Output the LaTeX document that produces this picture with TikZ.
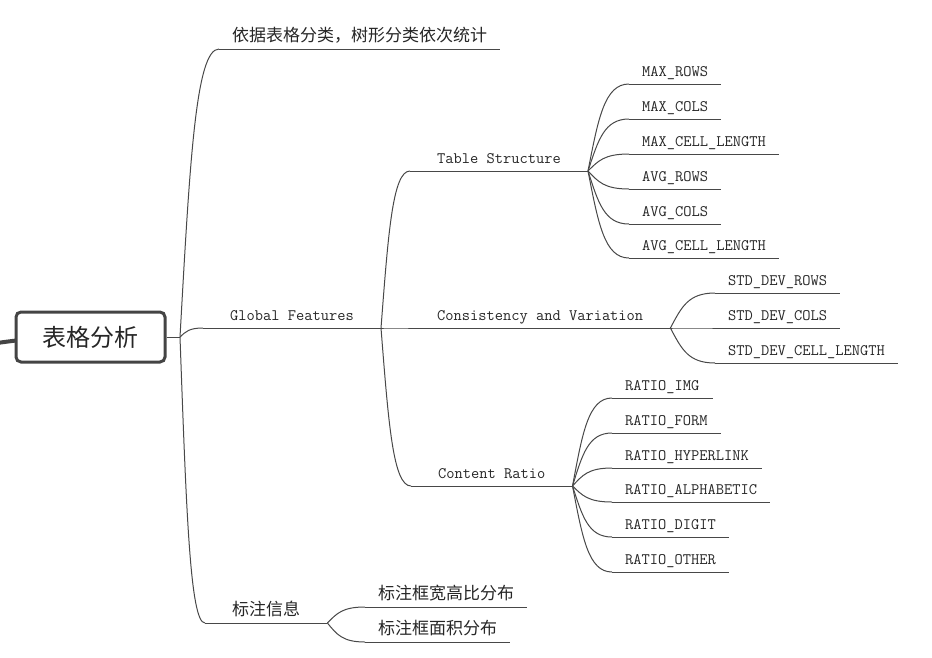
\documentclass[tikz,border=0pt]{standalone}
\usepackage{fontspec}
\usepackage{tikz}
\usetikzlibrary{calc}
\newfontfamily\cjk{Noto Sans CJK SC}
\definecolor{linegray}{RGB}{72, 72, 72}
\definecolor{txtdark}{RGB}{38, 38, 38}
\definecolor{rootgray}{RGB}{68, 68, 68}

\begin{document}
\begin{tikzpicture}[x=1pt, y=-1pt,
          line/.style={draw=linegray, line width=1pt},
          leaf/.style={anchor=south west, inner xsep=13pt,
                       inner ysep=4.5pt, text depth=2.5pt,
                       text=txtdark,
                       font=\fontsize{16}{19}\selectfont\ttfamily,
                       append after command={(\tikzlastnode.south west)
                           edge[line] (\tikzlastnode.south east)}},
          branch/.style={leaf, inner xsep=27pt},
          cn/.style={font=\fontsize{17}{20}\selectfont\cjk},
          rootbox/.style={draw=rootgray, line width=3pt, fill=white,
                          rounded corners=5pt, minimum width=149pt,
                          minimum height=50pt, text=txtdark,
                          font=\fontsize{24}{28}\selectfont\cjk},
          curvy/.style={to path={let \p1=(\tikztostart),
              \p2=(\tikztotarget) in
              .. controls ({\x1+0.25*(\x2-\x1)},{\y1+0.6*(\y2-\y1)})
              and ({\x2-0.6*(\x2-\x1)},\y2) .. (\tikztotarget)}},
      ]
      \useasboundingbox (0,0) rectangle (932,657);

      % root and its incoming line
      \coordinate (enter) at (-3,343);
      \coordinate (hub) at (180,337);
      \draw[draw=rootgray, line width=4pt] (enter)
          to[out=8, in=180] (90,337);
      \node[rootbox] (root) at (90.5,337) {表格分析};
      \draw[line] (root.east) -- (hub);

      % first level
      \node[leaf, cn] (basis) at (219,49)
          {依据表格分类，树形分类依次统计};
      \node[branch] (gf) at (203,328) {Global Features};
      \node[branch, cn] (mark) at (205,623) {标注信息};
      \foreach \c in {basis, gf, mark}
          \draw[line] (hub) to[curvy] (\c.south west);

      % global features
      \node[branch] (ts) at (410,171) {Table Structure};
      \node[branch] (cv) at (410,328) {Consistency and Variation};
      \node[branch] (cr) at (411,486) {Content Ratio};
      \foreach \c in {ts, cv, cr}
          \draw[line] (gf.south east) to[curvy] (\c.south west);

      % table structure leaves
      \foreach \k/\yy/\t in {mrow/84/MAX\_ROWS, mcol/119/MAX\_COLS,
              mlen/154/MAX\_CELL\_LENGTH, arow/189/AVG\_ROWS,
              acol/224/AVG\_COLS, alen/258/AVG\_CELL\_LENGTH} {
          \node[leaf] (\k) at (629,\yy) {\t};
          \draw[line] (ts.south east) to[curvy] (\k.south west);
      }

      % consistency leaves
      \foreach \k/\yy/\t in {srow/293/STD\_DEV\_ROWS,
              scol/328/STD\_DEV\_COLS,
              slen/363/STD\_DEV\_CELL\_LENGTH} {
          \node[leaf] (\k) at (715,\yy) {\t};
          \draw[line] (cv.south east) to[curvy] (\k.south west);
      }

      % content ratio leaves
      \foreach \k/\yy/\t in {rimg/398/RATIO\_IMG, rform/433/RATIO\_FORM,
              rlink/468/RATIO\_HYPERLINK, ralpha/502/RATIO\_ALPHABETIC,
              rdigit/537/RATIO\_DIGIT, rother/572/RATIO\_OTHER} {
          \node[leaf] (\k) at (612,\yy) {\t};
          \draw[line] (cr.south east) to[curvy] (\k.south west);
      }

      % annotation leaves
      \node[leaf, cn] (ratio) at (365,607) {标注框宽高比分布};
      \node[leaf, cn] (area) at (365,642) {标注框面积分布};
      \foreach \c in {ratio, area}
          \draw[line] (mark.south east) to[curvy] (\c.south west);
      \end{tikzpicture}
\end{document}
